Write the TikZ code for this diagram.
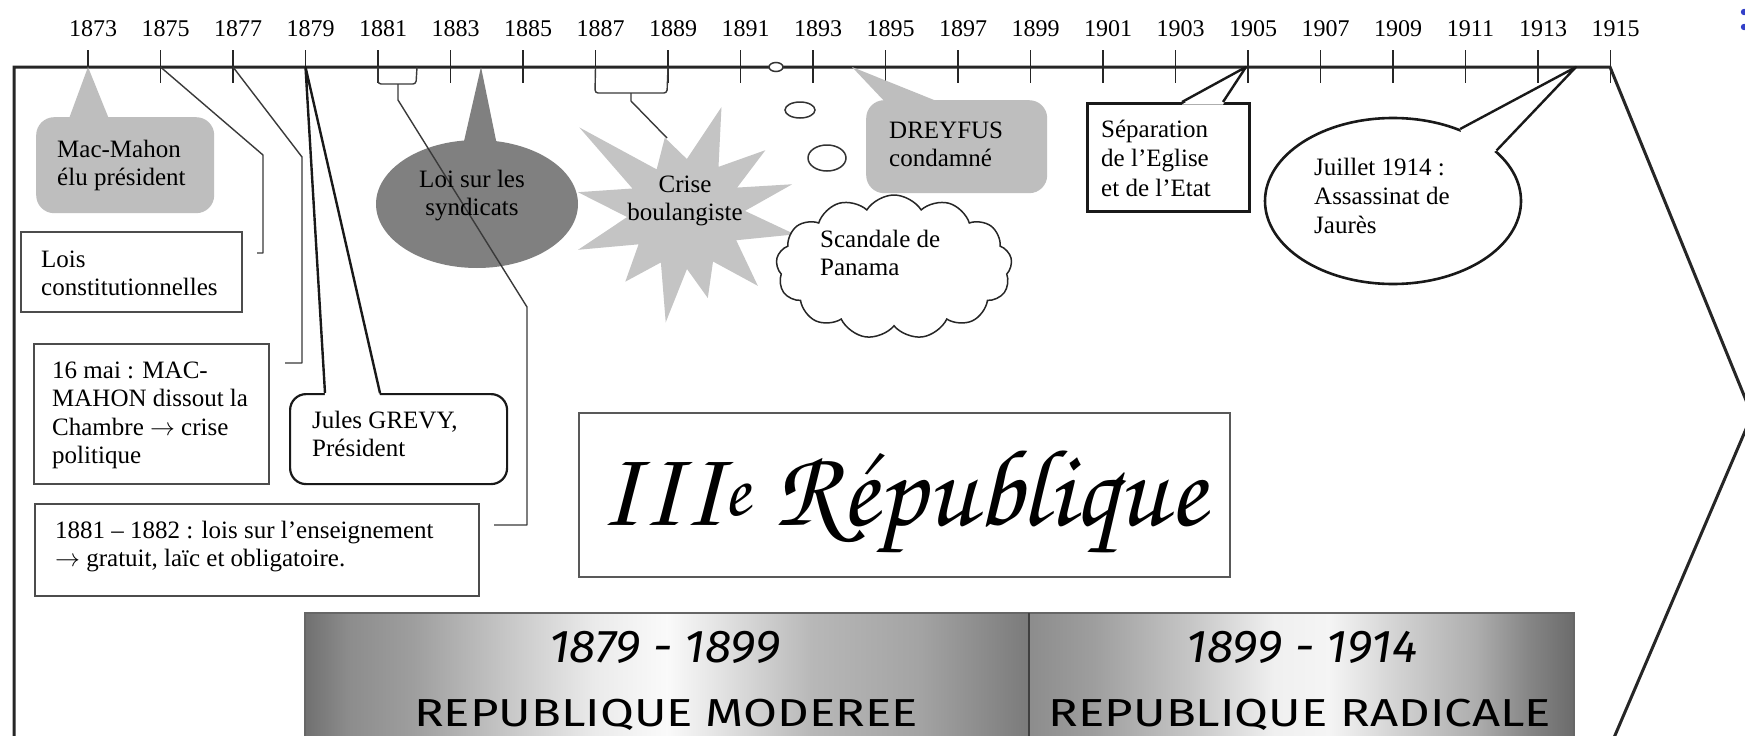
\documentclass[tikz,border=0pt]{standalone}
\usepackage[T1]{fontenc}
\usepackage{fontspec}
\usepackage{graphicx}
\setmainfont{Liberation Serif}
\newfontfamily\handsans{Fira Sans}
\usetikzlibrary{shapes.symbols,shapes.geometric}
\definecolor{lgray}{HTML}{BEBEBE}
\definecolor{dgray}{HTML}{808080}
\definecolor{sgray}{HTML}{C4C4C4}
\definecolor{lnc}{HTML}{3A3A3A}
\definecolor{bluemark}{HTML}{3340C8}
\newcommand\chanc{\fontencoding{T1}\fontfamily{pzc}\fontseries{mb}\fontshape{it}\selectfont}
\newcommand\lns[1]{\begin{tabular}[t]{@{}l@{}}#1\end{tabular}}
\newcommand\clns[1]{\begin{tabular}[t]{@{}c@{}}#1\end{tabular}}
\pgfdeclarehorizontalshading{metalL}{100bp}{color(0bp)=(black!56); color(25bp)=(black!56); color(28bp)=(black!45); color(32.5bp)=(black!38); color(39bp)=(black!22); color(45bp)=(black!8); color(50bp)=(black!2); color(54bp)=(black!12); color(60bp)=(black!28); color(67.5bp)=(black!36); color(75bp)=(black!52); color(100bp)=(black!52)}
\pgfdeclarehorizontalshading{metalR}{100bp}{color(0bp)=(black!45); color(25bp)=(black!45); color(31bp)=(black!38); color(40bp)=(black!22); color(47.5bp)=(black!6); color(52.5bp)=(black!4); color(59bp)=(black!18); color(66bp)=(black!32); color(71bp)=(black!48); color(75bp)=(black!58); color(100bp)=(black!58)}
\begin{document}
\begin{tikzpicture}[x=1pt,y=-1pt,
  txt/.style={inner sep=0,font=\fontsize{25}{28.5}\selectfont,anchor=base west},
  ctxt/.style={inner sep=0,font=\fontsize{25}{28.5}\selectfont,anchor=base},
  yr/.style={inner sep=0,font=\fontsize{24}{26}\selectfont,anchor=base},
  tickline/.style={draw=black!85,line width=1.8},
  conn/.style={draw=lnc,line width=1.4,line join=round},
  plainbox/.style={rectangle,draw=black!70,line width=1.6,fill=white,inner sep=0,anchor=north west},
  bubble/.style={ellipse,draw=black!80,line width=1.5,fill=white,inner sep=0},
  band/.style={inner sep=0,anchor=base}]
\useasboundingbox (0,0) rectangle (1745,736);
\clip (0,0) rectangle (1745,736);
\fill[white] (0,0) rectangle (1745,736);

% bottom band
\shade[shading=metalL] (305,613) rectangle (1029,745);
\shade[shading=metalR] (1029,613) rectangle (1574,745);
\draw[black!60,line width=1.2] (305,745) -- (305,613) -- (1574,613) -- (1574,745);
\draw[black!75,line width=1.2] (1029,613) -- (1029,745);
\node[band,font=\handsans\itshape\fontsize{46}{50}\selectfont] (d1) at (665,662) {\scalebox{1.05}[1]{1879 - 1899}};
\node[band,font=\handsans\itshape\fontsize{46}{50}\selectfont] (d2) at (1302,662) {\scalebox{1.05}[1]{1899 - 1914}};
\node[band,font=\handsans\fontsize{39}{44}\selectfont] (m1) at (666,726) {\scalebox{1.26}[1]{REPUBLIQUE MODEREE}};
\node[band,font=\handsans\fontsize{39}{44}\selectfont] (m2) at (1300,726) {\scalebox{1.26}[1]{REPUBLIQUE RADICALE}};

% III Republique
\node[plainbox,draw=black!65,minimum width=651,minimum height=164] (repbox) at (578,412) {};
\node[inner sep=0,anchor=base west,font=\chanc\fontsize{110}{120}\selectfont] (rep) at (598,525) {III\textsuperscript{e} R\'epublique};

% frame
\draw[line width=3,black!85,line join=miter] (14,745) -- (14,67) -- (1610,67) -- (1752,415) -- (1613,740);

% ticks and years
\foreach \yr in {1873,1875,...,1915}{
  \pgfmathsetmacro{\tx}{88+(\yr-1873)*36.25}
  \coordinate (t\yr) at (\tx,67);
  \draw[tickline] (\tx,50) -- (\tx,83);
  \node[yr] (y\yr) at (\tx+5,36) {\yr};
}

% Mac-Mahon
\fill[lgray] (t1873) -- (111,124) -- (67,124) -- cycle;
\node[fill=lgray,rounded corners=18,anchor=north west,minimum width=178,minimum height=96,inner sep=0] (mm) at (36,117) {};

% boxes
\node[plainbox,minimum width=221,minimum height=80] (lc) at (20,231) {};
\node[plainbox,minimum width=235,minimum height=140] (sm) at (33,343) {};
\node[plainbox,minimum width=444,minimum height=92] (ens) at (34,503) {};

% Jules Grevy
\node[plainbox,draw=black!90,line width=2.2,rounded corners=16,minimum width=217,minimum height=90] (jg) at (289,393) {};
\coordinate (jgA) at (325,393);
\coordinate (jgB) at (380,393);
\fill[white] (325,396) -- (t1879) -- (380,396) -- cycle;
\draw[black!90,line width=2.4,line join=round] (jgA) -- (t1879) -- (jgB);

% Loi sur les syndicats
\coordinate (p1884) at (481,67);
\fill[dgray] (p1884) -- (498,150) -- (462,150) -- cycle;
\node[ellipse,fill=dgray,minimum width=202,minimum height=128,inner sep=0] (syn) at (477,204) {};

% Crise boulangiste
\coordinate (sc) at (685,213);
\fill[sgray] ([shift={(-71:112)}]sc)
  \foreach \a/\r in {-54/57,-38/102,-26/58,-15/111,-2/60,11/112,28/58,45/103,60/56,75/88,88/56,100/111,116/55,131/91,146/56,161/113,176/58,191/109,205/58,219/136,237/52,255/78,272/54}
  { -- ([shift={(\a:\r)}]sc) } -- cycle;

% Panama
\node[cloud,cloud puffs=13,cloud puff arc=115,cloud ignores aspect,draw=black!85,line width=1.5,fill=white,minimum width=236,minimum height=144,inner sep=0] (pan) at (894,267) {};
\node[bubble,minimum width=14,minimum height=9] (b0) at (776,67) {};
\node[bubble,minimum width=30,minimum height=16] (b1) at (800,110) {};
\node[bubble,minimum width=38,minimum height=26] (b2) at (827,158) {};

% DREYFUS
\coordinate (p1894) at (852,67);
\fill[lgray] (p1894) -- (944,104) -- (887,104) -- cycle;
\node[fill=lgray,rounded corners=18,anchor=north west,minimum width=181,minimum height=93,inner sep=0] (dr) at (866,100) {};

% Separation
\node[plainbox,draw=black!90,line width=2.6,minimum width=162,minimum height=108] (sep) at (1086,102) {};
\coordinate (p1905) at (1246,67);
\coordinate (sepA) at (1182,102);
\coordinate (sepB) at (1223,102);
\fill[white] (1182,104.5) -- (p1905) -- (1223,104.5) -- cycle;
\draw[black!90,line width=2.4,line join=round] (sepA) -- (p1905) -- (sepB);

% Juillet 1914
\node[ellipse,draw=black!90,line width=2.6,fill=white,minimum width=256,minimum height=166,inner sep=0] (jj) at (1393,201) {};
\coordinate (p1914) at (1576,67);
\fill[white] (jj.47) -- (p1914) -- (jj.26) -- (1470,165) -- cycle;
\draw[black!90,line width=2.4,line join=round] (jj.47) -- (p1914) -- (jj.26);

% connectors
\coordinate (c75a) at (263,155);
\coordinate (c75b) at (263,253);
\coordinate (c75e) at (257,253);
\draw[conn] (t1875) -- (c75a) -- (c75b) -- (c75e);
\coordinate (c77a) at (302,157);
\coordinate (c77b) at (302,363);
\coordinate (c77e) at (285,363);
\draw[conn] (t1877) -- (c77a) -- (c77b) -- (c77e);
\coordinate (k82) at (417,67);
\draw[conn,rounded corners=3] (t1881) -- (378,84) -- (416,84) -- (k82);
\coordinate (c81m) at (398,84);
\coordinate (c81a) at (398,100);
\coordinate (c81b) at (527,307);
\coordinate (c81c) at (527,525);
\coordinate (c81e) at (494,525);
\draw[conn] (c81m) -- (c81a) -- (c81b) -- (c81c) -- (c81e);
\draw[conn,rounded corners=3] (t1887) -- (595,93) -- (667,93) -- (t1889);
\coordinate (c87m) at (631,93);
\coordinate (c87a) at (631,101);
\coordinate (c87e) at (667,138);
\draw[conn] (c87m) -- (c87a) -- (c87e);

% texts
\node[txt] (mmT) at (57,157) {\lns{Mac-Mahon\\élu président}};
\node[txt] (lcT) at (41,267) {\lns{Lois\\constitutionnelles}};
\node[txt] (smT) at (52,378) {\lns{16 mai : MAC-\\MAHON dissout la\\Chambre $\rightarrow$ crise\\politique}};
\node[txt] (ensT) at (55,538) {\lns{1881 – 1882 : lois sur l’enseignement\\$\rightarrow$ gratuit, laïc et obligatoire.}};
\node[txt] (jgT) at (312,428) {\lns{Jules GREVY,\\Président}};
\node[ctxt] (synT) at (472,187) {\clns{Loi sur les\\syndicats}};
\node[ctxt] (crT) at (685,192) {\clns{Crise\\boulangiste}};
\node[txt] (panT) at (820,247) {\lns{Scandale de\\Panama}};
\node[txt] (drT) at (889,138) {\lns{DREYFUS\\condamné}};
\node[txt,font=\fontsize{25}{29.5}\selectfont] (sepT) at (1101,137) {\lns{Séparation\\de l’Eglise\\et de l’Etat}};
\node[txt,font=\fontsize{25}{29}\selectfont] (jjT) at (1314,175) {\lns{Juillet 1914 :\\Assassinat de\\Jaurès}};

% blue marks at the edge
\fill[bluemark] (1744,12) circle (3.2);
\fill[bluemark] (1744,27) circle (3.2);
\end{tikzpicture}
\end{document}
